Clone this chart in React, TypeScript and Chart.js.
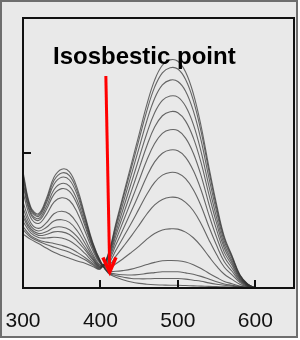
import React, { useEffect, useRef } from "react";
import { Chart, registerables } from "chart.js";

Chart.register(...registerables);

// Wavelength grid (nm)
const wavelengths = [300, 310, 320, 330, 340, 350, 360, 370, 380, 390, 400, 410, 420, 430, 440, 450, 460, 470, 480, 490, 500, 510, 520, 530, 540, 550, 560, 570, 580, 590, 600];

// Absorbance spectra (top 355-nm band -> top 500-nm band)
const s0 = [0.43, 0.30, 0.275, 0.33, 0.41, 0.44, 0.43, 0.37, 0.27, 0.17, 0.10, 0.055, 0.04, 0.03, 0.022, 0.017, 0.014, 0.012, 0.011, 0.01, 0.01, 0.009, 0.008, 0.007, 0.006, 0.005, 0.004, 0.003, 0.002, 0.001, 0];
const s1 = [0.420, 0.295, 0.270, 0.322, 0.398, 0.426, 0.416, 0.358, 0.262, 0.166, 0.099, 0.057, 0.046, 0.040, 0.035, 0.034, 0.034, 0.035, 0.035, 0.035, 0.035, 0.033, 0.029, 0.025, 0.019, 0.014, 0.010, 0.007, 0.003, 0.001, 0];
const s2 = [0.408, 0.289, 0.265, 0.313, 0.384, 0.410, 0.400, 0.345, 0.253, 0.162, 0.097, 0.059, 0.052, 0.049, 0.048, 0.050, 0.054, 0.057, 0.060, 0.060, 0.060, 0.056, 0.051, 0.043, 0.033, 0.023, 0.015, 0.010, 0.005, 0.002, 0];
const s3 = [0.392, 0.280, 0.257, 0.300, 0.364, 0.387, 0.377, 0.325, 0.241, 0.155, 0.095, 0.063, 0.062, 0.065, 0.070, 0.078, 0.087, 0.095, 0.101, 0.102, 0.101, 0.096, 0.086, 0.072, 0.055, 0.039, 0.024, 0.016, 0.007, 0.003, 0];
const s4 = [0.378, 0.273, 0.250, 0.289, 0.347, 0.368, 0.358, 0.309, 0.230, 0.150, 0.093, 0.073, 0.090, 0.110, 0.132, 0.155, 0.181, 0.202, 0.215, 0.219, 0.218, 0.207, 0.186, 0.155, 0.117, 0.081, 0.051, 0.032, 0.014, 0.005, 0];
const s5 = [0.354, 0.260, 0.239, 0.270, 0.318, 0.334, 0.324, 0.280, 0.211, 0.140, 0.090, 0.082, 0.118, 0.155, 0.193, 0.233, 0.274, 0.308, 0.328, 0.336, 0.334, 0.317, 0.286, 0.238, 0.179, 0.124, 0.077, 0.049, 0.021, 0.006, 0];
const s6 = [0.318, 0.242, 0.221, 0.241, 0.275, 0.284, 0.274, 0.239, 0.183, 0.126, 0.085, 0.090, 0.140, 0.190, 0.241, 0.294, 0.347, 0.391, 0.418, 0.428, 0.425, 0.405, 0.364, 0.304, 0.228, 0.158, 0.097, 0.062, 0.026, 0.008, 0];
const s7 = [0.296, 0.230, 0.211, 0.224, 0.248, 0.253, 0.243, 0.212, 0.166, 0.117, 0.083, 0.097, 0.160, 0.222, 0.285, 0.349, 0.414, 0.467, 0.499, 0.511, 0.508, 0.484, 0.435, 0.363, 0.272, 0.188, 0.116, 0.073, 0.031, 0.009, 0];
const s8 = [0.276, 0.220, 0.202, 0.208, 0.224, 0.226, 0.216, 0.190, 0.151, 0.110, 0.080, 0.103, 0.178, 0.251, 0.324, 0.399, 0.474, 0.535, 0.573, 0.586, 0.583, 0.555, 0.499, 0.416, 0.312, 0.216, 0.132, 0.084, 0.035, 0.011, 0];
const s9 = [0.263, 0.213, 0.195, 0.198, 0.208, 0.208, 0.198, 0.174, 0.141, 0.105, 0.078, 0.109, 0.194, 0.276, 0.359, 0.443, 0.527, 0.596, 0.638, 0.653, 0.649, 0.618, 0.556, 0.464, 0.348, 0.240, 0.147, 0.093, 0.039, 0.012, 0];
const s10 = [0.247, 0.204, 0.187, 0.185, 0.188, 0.185, 0.175, 0.155, 0.128, 0.098, 0.076, 0.114, 0.208, 0.299, 0.390, 0.482, 0.573, 0.649, 0.695, 0.711, 0.707, 0.673, 0.606, 0.505, 0.379, 0.261, 0.160, 0.101, 0.042, 0.013, 0];
const s11 = [0.227, 0.194, 0.178, 0.170, 0.165, 0.158, 0.148, 0.132, 0.113, 0.091, 0.074, 0.119, 0.222, 0.321, 0.421, 0.520, 0.620, 0.702, 0.752, 0.770, 0.765, 0.729, 0.656, 0.547, 0.410, 0.283, 0.173, 0.110, 0.046, 0.014, 0];
const s12 = [0.216, 0.188, 0.173, 0.161, 0.151, 0.142, 0.132, 0.119, 0.105, 0.086, 0.072, 0.123, 0.233, 0.339, 0.445, 0.551, 0.657, 0.744, 0.797, 0.816, 0.811, 0.772, 0.695, 0.579, 0.435, 0.299, 0.184, 0.116, 0.048, 0.015, 0];
const s13 = [0.20, 0.18, 0.165, 0.148, 0.132, 0.12, 0.11, 0.10, 0.092, 0.08, 0.07, 0.125, 0.24, 0.35, 0.46, 0.57, 0.68, 0.77, 0.825, 0.845, 0.84, 0.80, 0.72, 0.60, 0.45, 0.31, 0.19, 0.12, 0.05, 0.015, 0];

const spectra = [s0, s1, s2, s3, s4, s5, s6, s7, s8, s9, s10, s11, s12, s13];

// Axis settings
const xMin = 300;
const xMax = 650;
const xTickStep = 100;
const yMin = 0;
const yMax = 1;
const innerTicksX = [400, 500, 600];
const innerTicksY = [0.5];

// Annotation
const annotationText = "Isosbestic point";
const annotationAt = { x: 338.7, y: 0.83 };
const arrowFrom = { x: 407, y: 0.785 };
const arrowTo = { x: 412, y: 0.059 };

const decorPlugin = {
  id: "decor",
  beforeDraw(chart: any) {
    const ctx = chart.ctx;
    const w = chart.width;
    const h = chart.height;
    ctx.save();
    ctx.fillStyle = "#ffffff";
    ctx.fillRect(0, 0, w, h);
    ctx.fillStyle = "#e9e9e9";
    ctx.fillRect(0, 0, 297, 337);
    ctx.strokeStyle = "#6e6e6e";
    ctx.lineWidth = 2;
    ctx.strokeRect(1, 1, 296, 336);
    ctx.restore();
  },
  afterDatasetsDraw(chart: any) {
    const ctx = chart.ctx;
    const area = chart.chartArea;
    const xs = chart.scales.x;
    const ys = chart.scales.y;
    ctx.save();
    // plot frame
    ctx.strokeStyle = "#111";
    ctx.lineWidth = 2;
    ctx.strokeRect(area.left, area.top, area.right - area.left, area.bottom - area.top);
    // inward ticks
    ctx.lineWidth = 2;
    ctx.beginPath();
    innerTicksX.forEach((v) => {
      const px = Math.round(xs.getPixelForValue(v));
      ctx.moveTo(px, area.bottom);
      ctx.lineTo(px, area.bottom - 8);
    });
    innerTicksY.forEach((v) => {
      const py = Math.round(ys.getPixelForValue(v));
      ctx.moveTo(area.left, py);
      ctx.lineTo(area.left + 8, py);
    });
    ctx.stroke();

    // annotation text
    ctx.fillStyle = "#000";
    ctx.font = 'bold 24px "Liberation Sans", Arial, sans-serif';
    ctx.textBaseline = "alphabetic";
    ctx.textAlign = "left";
    ctx.fillText(annotationText, xs.getPixelForValue(annotationAt.x), ys.getPixelForValue(annotationAt.y));

    // arrow
    const x1 = xs.getPixelForValue(arrowFrom.x);
    const y1 = ys.getPixelForValue(arrowFrom.y);
    const x2 = xs.getPixelForValue(arrowTo.x);
    const y2 = ys.getPixelForValue(arrowTo.y);
    ctx.strokeStyle = "#ff0000";
    ctx.lineWidth = 3;
    ctx.lineCap = "butt";
    ctx.beginPath();
    ctx.moveTo(x1, y1);
    ctx.lineTo(x2, y2 - 2);
    ctx.stroke();
    const ang = Math.atan2(y2 - y1, x2 - x1);
    const len = 16;
    const spread = 0.42;
    ctx.lineWidth = 3.5;
    ctx.lineJoin = "miter";
    ctx.beginPath();
    ctx.moveTo(x2 - len * Math.cos(ang - spread), y2 - len * Math.sin(ang - spread));
    ctx.lineTo(x2, y2);
    ctx.lineTo(x2 - len * Math.cos(ang + spread), y2 - len * Math.sin(ang + spread));
    ctx.stroke();
    ctx.restore();
  },
};

export default function App() {
  const canvasRef = useRef<HTMLCanvasElement | null>(null);

  useEffect(() => {
    document.body.style.margin = "0";
    const canvas = canvasRef.current;
    if (!canvas) return;
    const chart = new Chart(canvas, {
      type: "line",
      data: {
        datasets: spectra.map((s) => ({
          data: wavelengths.map((w, i) => ({ x: w, y: s[i] })),
          borderColor: "rgba(50,50,50,0.72)",
          borderWidth: 1.1,
          pointRadius: 0,
          tension: 0.4,
          fill: false,
        })),
      },
      options: {
        animation: false,
        responsive: false,
        devicePixelRatio: 1,
        layout: { padding: { left: 23, right: 6, top: 18, bottom: 6 } },
        plugins: { legend: { display: false }, tooltip: { enabled: false } },
        scales: {
          x: {
            type: "linear",
            min: xMin,
            max: xMax,
            grid: { display: false, drawTicks: false },
            border: { display: false },
            afterFit: (scale: any) => {
              scale.height = 46;
              scale.paddingLeft = 0;
              scale.paddingRight = 0;
            },
            ticks: {
              stepSize: xTickStep,
              includeBounds: false,
              autoSkip: false,
              maxRotation: 0,
              padding: 21,
              color: "#111",
              font: { family: '"Liberation Sans", Arial, sans-serif', size: 21 },
            },
          },
          y: {
            display: false,
            min: yMin,
            max: yMax,
          },
        },
      },
      plugins: [decorPlugin],
    });
    return () => chart.destroy();
  }, []);

  return (
    <div style={{ width: 300, height: 340 }}>
      <canvas ref={canvasRef} width={300} height={340} style={{ display: "block" }} />
    </div>
  );
}
